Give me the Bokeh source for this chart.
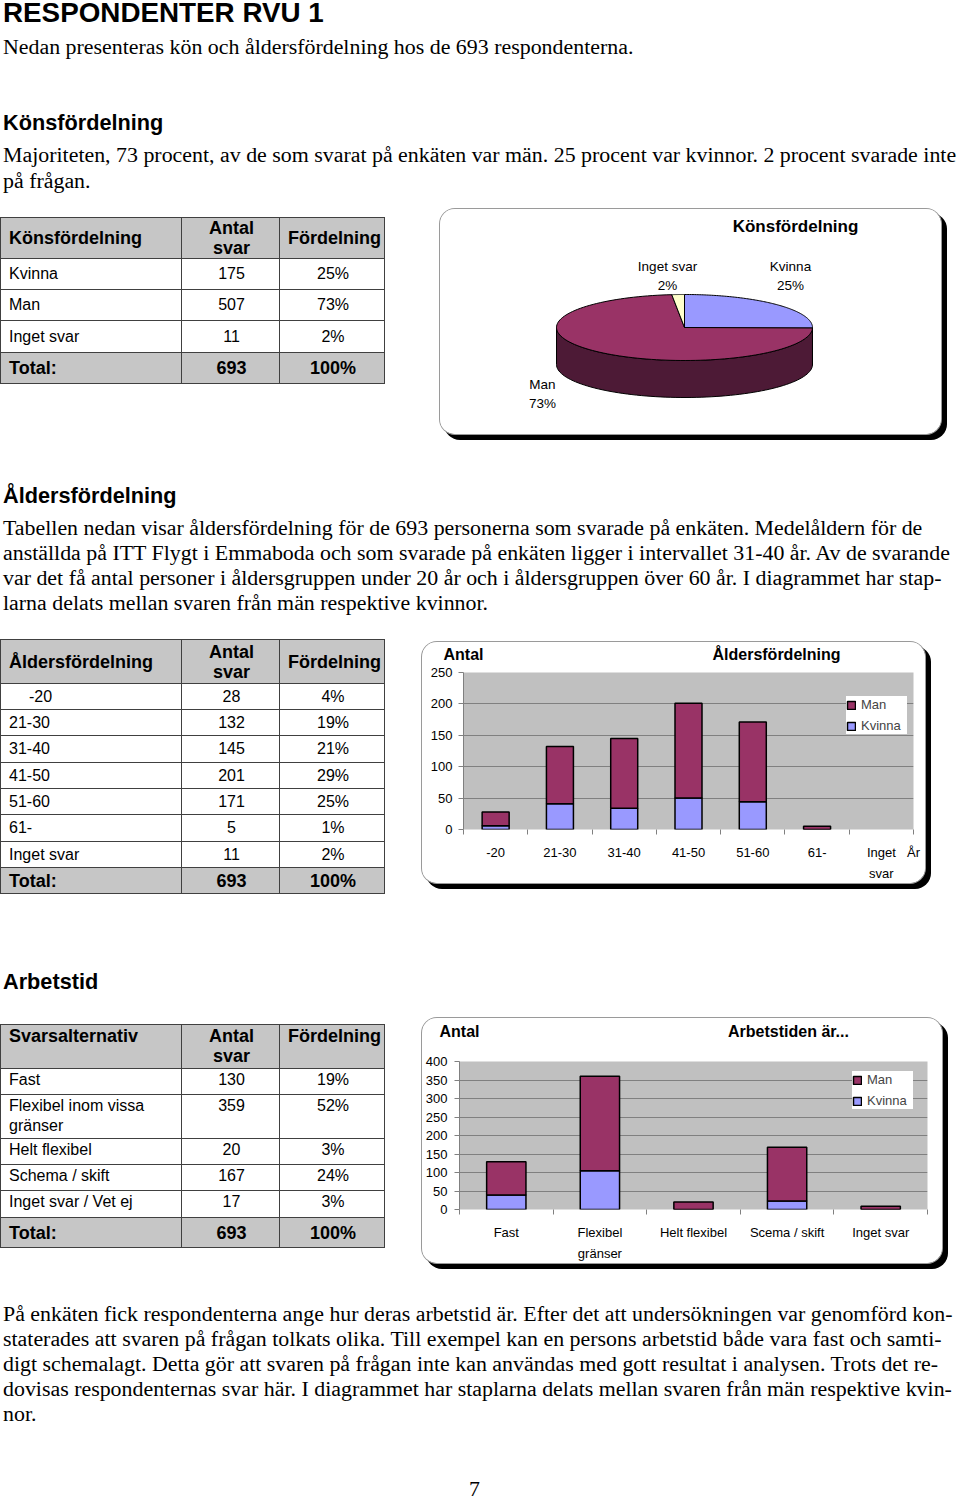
import numpy as np
from bokeh.plotting import figure
from bokeh.models import (Div, Range1d, FixedTicker, Legend, LegendItem, LinearAxis,
                          ColumnDataSource)
from bokeh.layouts import column, row
from bokeh.embed import file_html
from bokeh.resources import INLINE
from bokeh.core.properties import value

# ------------------------------------------------------------------ data
gender_labels = ["Kvinna", "Man", "Inget svar"]
gender_counts = [175, 507, 11]
gender_pct = ["25%", "73%", "2%"]

age_groups = ["-20", "21-30", "31-40", "41-50", "51-60", "61-", "Inget svar"]
age_counts = [28, 132, 145, 201, 171, 5, 11]
age_pct = ["4%", "19%", "21%", "29%", "25%", "1%", "2%"]
age_chart_labels = ["-20", "21-30", "31-40", "41-50", "51-60", "61-", "Inget\nsvar"]
age_kvinna = [6, 41, 34, 50, 44, 0, 0]
age_man = [22, 91, 111, 151, 127, 5, 0]

work_options = ["Fast", "Flexibel inom vissa<br>gränser", "Helt flexibel",
                "Schema / skift", "Inget svar / Vet ej"]
work_counts = [130, 359, 20, 167, 17]
work_pct = ["19%", "52%", "3%", "24%", "3%"]
work_chart_labels = ["Fast", "Flexibel\ngränser", "Helt flexibel", "Scema / skift", "Inget svar"]
work_kvinna = [39, 105, 0, 23, 0]
work_man = [90, 255, 20, 145, 9]

total_count = 693
total_pct = "100%"

MAN_C = "#993366"
KV_C = "#9999FF"
INGET_C = "#FFFFCC"
MAN_SIDE = "#4D1A36"
KV_SIDE = "#4D4D80"
INGET_SIDE = "#808066"

SANS = "'Liberation Sans', Arial, sans-serif"
SERIF = "'Liberation Serif', 'Times New Roman', serif"
W = 960


# ------------------------------------------------------------------ helpers
def txt(s, top, left=3, size=21.9, lh=25, family=SERIF, bold=False):
    w = "bold" if bold else "normal"
    return (f'<div style="position:absolute;left:{left}px;top:{top}px;white-space:nowrap;'
            f'font-family:{family};font-size:{size}px;line-height:{lh}px;'
            f'font-weight:{w};color:#000;">{s}</div>')


def block(inner, w, h):
    html = f'<div style="position:relative;width:{w}px;height:{h}px;">{inner}</div>'
    return Div(text=html, width=w, height=h, margin=0,
               styles={"overflow": "visible"})


def td(content, align="left", bold=False, bg=None, size=16, valign="middle",
       pl=8, pt=0):
    st = (f"border:1px solid #404040;padding:{pt}px 6px 0 {pl}px;text-align:{align};"
          f"vertical-align:{valign};font-family:{SANS};font-size:{size}px;"
          f"font-weight:{'bold' if bold else 'normal'};line-height:20px;color:#000;"
          "white-space:nowrap;overflow:hidden;")
    if bg:
        st += f"background:{bg};"
    return f'<td style="{st}">{content}</td>'


def table(title, labels, counts, pcts, head_h, row_h, tot_h, top,
          valign="middle", pads=None, pt=0):
    G = "#C6C6C6"
    h = ('<table style="position:absolute;left:0;top:%dpx;border-collapse:collapse;'
         'table-layout:fixed;width:384px;">' % top)
    h += '<col style="width:181px"><col style="width:98px"><col style="width:105px">'
    h += f'<tr style="height:{head_h}px">'
    h += td(title, bold=True, bg=G, size=18, valign=valign, pt=pt)
    h += td("Antal<br>svar", align="center", bold=True, bg=G, size=18, valign=valign, pt=pt)
    h += td("Fördelning", align="center", bold=True, bg=G, size=18, valign=valign, pt=pt)
    h += '</tr>'
    for i, (lab, c, p) in enumerate(zip(labels, counts, pcts)):
        pl = pads[i] if pads else 8
        h += f'<tr style="height:{row_h[i]}px">'
        h += td(lab, valign=valign, pl=pl, pt=pt)
        h += td(str(c), align="center", valign=valign, pt=pt)
        h += td(p, align="center", valign=valign, pt=pt)
        h += '</tr>'
    h += f'<tr style="height:{tot_h}px">'
    h += td("Total:", bold=True, bg=G, size=18)
    h += td(str(total_count), align="center", bold=True, bg=G, size=18)
    h += td(total_pct, align="center", bold=True, bg=G, size=18)
    h += '</tr></table>'
    return h


BOX_STYLE = {"border-radius": "15px",
             "box-shadow": "0 0 0 1px #9a9a9a, 5px 5px 0 1px #000",
             "overflow": "hidden"}


def bar_chart(labels, kv, man, ymax, width, height, ml, mr, mt, mb,
              title, title_c, top_standoff, legend_loc,
              with_ar=False, standoff_y=6):
    n = len(labels)
    fw = width - ml - mr
    centers = [i + 0.5 for i in range(n)]
    keep = [i for i in range(n) if kv[i] + man[i] > 0]
    src = ColumnDataSource(dict(x=[centers[i] for i in keep],
                                Kvinna=[kv[i] for i in keep],
                                Man=[man[i] for i in keep]))
    p = figure(width=width, height=height, x_range=Range1d(0, n),
               y_range=Range1d(0, ymax), output_backend="svg",
               toolbar_location=None, title=None,
               min_border_left=ml, min_border_right=mr,
               min_border_top=mt, min_border_bottom=mb,
               styles=BOX_STYLE)
    p.background_fill_color = "#C0C0C0"
    p.border_fill_color = "white"
    p.outline_line_color = None
    rs = p.vbar_stack(["Kvinna", "Man"], x="x", width=0.42, source=src,
                      color=[KV_C, MAN_C], line_color="black", line_width=1.5)
    # y axis
    p.yaxis.ticker = list(range(0, ymax + 1, 50))
    p.yaxis.major_tick_out = 5
    p.yaxis.major_tick_in = 0
    p.yaxis.minor_tick_line_color = None
    p.yaxis.major_tick_line_color = "#808080"
    p.yaxis.axis_line_color = "#808080"
    p.yaxis.major_label_standoff = standoff_y
    p.yaxis.major_label_text_font = "Liberation Sans"
    p.yaxis.major_label_text_font_size = "13px"
    p.yaxis.major_label_text_color = "black"

    # x axis: category labels centred, ticks on category boundaries
    ticks = list(centers)
    overrides = {c: lab for c, lab in zip(centers, labels)}
    if with_ar:
        ticks.append(n)
        overrides[n] = "År"
    p.xaxis.ticker = FixedTicker(ticks=ticks, minor_ticks=list(range(n + 1)))
    p.xaxis.major_label_overrides = overrides
    p.xaxis.axis_line_color = None
    p.xaxis.major_tick_line_color = None
    p.xaxis.major_tick_out = 0
    p.xaxis.major_tick_in = 0
    p.xaxis.minor_tick_out = 5
    p.xaxis.minor_tick_in = 0
    p.xaxis.minor_tick_line_color = "#808080"
    p.xaxis.major_label_standoff = 10
    p.xaxis.major_label_text_font = "Liberation Sans"
    p.xaxis.major_label_text_font_size = "13px"
    p.xaxis.major_label_text_color = "black"
    p.xaxis.major_label_text_line_height = 1.4

    p.xgrid.grid_line_color = None
    p.ygrid.grid_line_color = "#808080"
    p.ygrid.grid_line_width = 1

    # header row ("Antal" + chart title) as labels of an axis above the frame
    p.extra_x_ranges = {"px": Range1d(0, fw)}
    top_axis = LinearAxis(x_range_name="px",
                          ticker=FixedTicker(ticks=[0, title_c]),
                          major_label_overrides={0: "Antal", title_c: title},
                          axis_line_color=None, major_tick_line_color=None,
                          minor_tick_line_color=None, major_tick_out=0, major_tick_in=0,
                          major_label_standoff=top_standoff,
                          major_label_text_font="Liberation Sans",
                          major_label_text_font_style="bold",
                          major_label_text_font_size="16px",
                          major_label_text_color="black")
    p.add_layout(top_axis, "above")

    legend = Legend(items=[LegendItem(label="Man", renderers=[rs[1]]),
                           LegendItem(label="Kvinna", renderers=[rs[0]])],
                    location=legend_loc, margin=0, padding=5, spacing=4,
                    glyph_width=10, glyph_height=10, label_standoff=5,
                    label_height=17, label_width=46,
                    label_text_font="Liberation Sans",
                    label_text_font_size="13px", border_line_color=None,
                    background_fill_color="white", background_fill_alpha=1.0)
    p.add_layout(legend)
    return p


# ------------------------------------------------------------------ pie (3D look)
PW, PH = 501, 225
pie = figure(width=PW, height=PH, x_range=Range1d(0, PW), y_range=Range1d(PH, 0),
             x_axis_type=None, y_axis_type=None, min_border=0, title=None,
             output_backend="svg", toolbar_location=None, styles=BOX_STYLE)
pie.outline_line_color = None
pie.background_fill_color = "white"
pie.border_fill_color = "white"
pie.grid.visible = False

CX, CY, A, B, D = 244, 118, 128, 33, 37
counts = np.array(gender_counts, dtype=float)
fr = counts / counts.sum()
ends = np.cumsum(fr) * 2 * np.pi
starts = ends - fr * 2 * np.pi
tops_c = [KV_C, MAN_C, INGET_C]
sides_c = [KV_SIDE, MAN_SIDE, INGET_SIDE]

side_xs, side_ys, side_col = [], [], []
top_xs, top_ys = [], []
for t0, t1, sc in zip(starts, ends, sides_c):
    a0, a1 = max(t0, np.pi / 2), min(t1, 3 * np.pi / 2)
    if a1 > a0:
        th = np.linspace(a0, a1, 80)
        ex = CX + A * np.sin(th)
        ey = CY - B * np.cos(th)
        side_xs.append(list(ex) + list(ex[::-1]))
        side_ys.append(list(ey) + list((ey + D)[::-1]))
        side_col.append(sc)
    th = np.linspace(t0, t1, 120)
    top_xs.append([CX] + list(CX + A * np.sin(th)))
    top_ys.append([CY] + list(CY - B * np.cos(th)))

pie.patches(side_xs, side_ys, fill_color=side_col, line_color="black", line_width=1)
pie.patches(top_xs, top_ys, fill_color=tops_c, line_color="black", line_width=1)

# label layout positions (Kvinna, Man, Inget svar)
lab_pos = {"Kvinna": (350, 57), "Man": (102, 175), "Inget svar": (227, 57)}
lx = [lab_pos[g][0] for g in gender_labels]
ly = [lab_pos[g][1] for g in gender_labels]
pie.text(x=lx, y=ly, text=gender_labels, text_font=value("Liberation Sans"),
         text_font_size="13.5px", text_align="center", text_baseline="middle")
pie.text(x=lx, y=[v + 19 for v in ly], text=gender_pct, text_font=value("Liberation Sans"),
         text_font_size="13.5px", text_align="center", text_baseline="middle")
pie.text(x=[355], y=[17], text=["Könsfördelning"], text_font=value("Liberation Sans"),
         text_font_style="bold", text_font_size="17px", text_align="center",
         text_baseline="middle")
pie.margin = (4, 0, 0, 0)

# ------------------------------------------------------------------ bar charts
age_fig = bar_chart(age_chart_labels, age_kvinna, age_man, 250, 503, 241, 41, 12, 30, 50,
                    "Åldersfördelning", 313, 10, (383, 95),
                    with_ar=True, standoff_y=6)
age_fig.margin = (4, 0, 0, 0)

work_fig = bar_chart(work_chart_labels, work_kvinna, work_man, 400, 520, 245, 37, 15, 43, 49,
                     "Arbetstiden är...", 329, 22, (393, 100),
                     standoff_y=7)
work_fig.margin = (2, 0, 0, 0)

# ------------------------------------------------------------------ text blocks
segA = block(
    txt("RESPONDENTER RVU 1", -2, size=27.8, lh=30, family=SANS, bold=True)
    + txt("Nedan presenteras kön och åldersfördelning hos de 693 respondenterna.", 34)
    + txt("Könsfördelning", 110, size=21.7, family=SANS, bold=True)
    + txt("Majoriteten, 73 procent, av de som svarat på enkäten var män. 25 procent var "
          "kvinnor. 2 procent svarade inte", 142)
    + txt("på frågan.", 168),
    W, 205)

segB = row(block(table("Könsfördelning", gender_labels, gender_counts, gender_pct,
                       41, [31, 31, 32], 31, 12), 440, 240), pie)

segC = block(
    txt("Åldersfördelning", 38, size=21.7, family=SANS, bold=True)
    + txt("Tabellen nedan visar åldersfördelning för de 693 personerna som svarade på "
          "enkäten. Medelåldern för de", 70)
    + txt("anställda på ITT Flygt i Emmaboda och som svarade på enkäten ligger i "
          "intervallet 31-40 år. Av de svarande", 95)
    + txt("var det få antal personer i åldersgruppen under 20 år och i åldersgruppen "
          "över 60 år. I diagrammet har stap-", 120)
    + txt("larna delats mellan svaren från män respektive kvinnor.", 145),
    W, 193)

segD = row(block(table("Åldersfördelning", age_groups, age_counts, age_pct,
                       44, [26, 26, 27, 26, 26, 27, 26], 26, 1,
                       pads=[28, 8, 8, 8, 8, 8, 8]), 422, 260), age_fig)

segE = block(txt("Arbetstid", 71, size=21.7, family=SANS, bold=True), W, 118)

segF = row(block(table("Svarsalternativ", work_options, work_counts, work_pct,
                       44, [26, 44, 26, 26, 27], 30, 8, valign="top", pt=1),
                 422, 259), work_fig)

segG = block(
    txt("På enkäten fick respondenterna ange hur deras arbetstid är. Efter det att "
        "undersökningen var genomförd kon-", 26)
    + txt("staterades att svaren på frågan tolkats olika. Till exempel kan en persons "
          "arbetstid både vara fast och samti-", 51)
    + txt("digt schemalagt. Detta gör att svaren på frågan inte kan användas med gott "
          "resultat i analysen. Trots det re-", 76)
    + txt("dovisas respondenternas svar här. I diagrammet har staplarna delats mellan "
          "svaren från män respektive kvin-", 101)
    + txt("nor.", 126)
    + txt("7", 204, left=469, lh=20),
    W, 226)

page = column(segA, segB, segC, segD, segE, segF, segG, spacing=0)

open("out.html", "w").write(file_html(page, INLINE))
